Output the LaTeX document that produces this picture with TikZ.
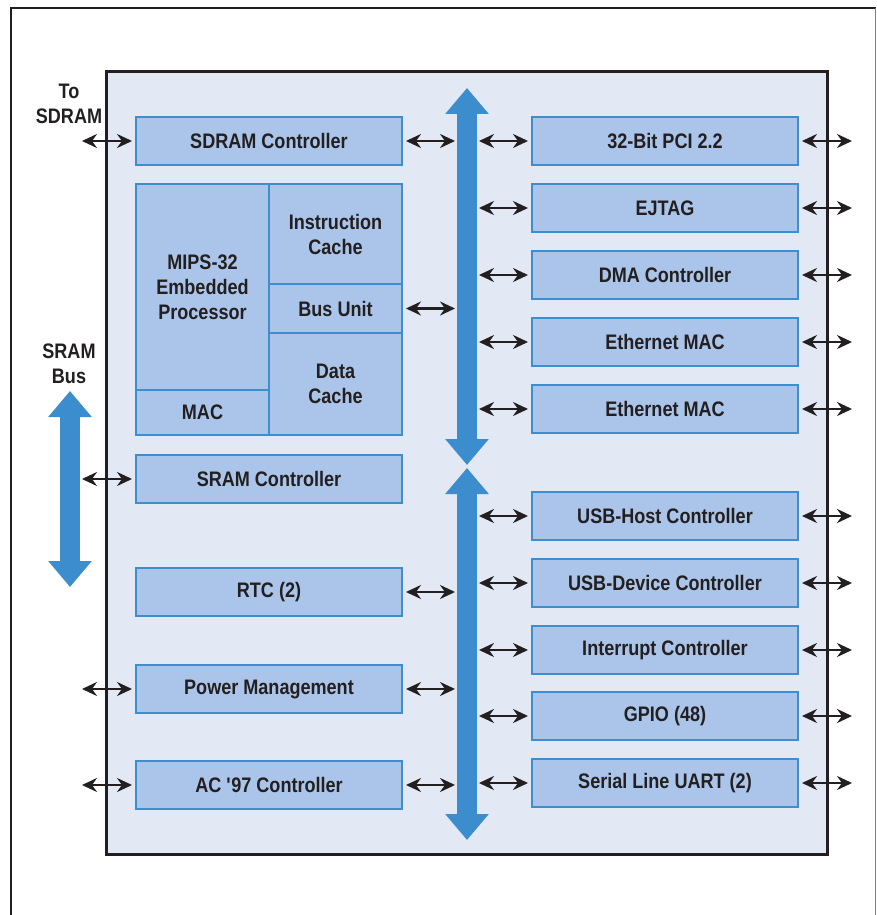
\documentclass[tikz,border=0pt]{standalone}
\usepackage{fontspec}
\setmainfont{Liberation Sans}[FakeStretch=0.86]
\usetikzlibrary{arrows.meta}

\definecolor{fondochip}{RGB}{226,232,244}
\definecolor{relleno}{RGB}{170,197,233}
\definecolor{borde}{RGB}{62,142,205}
\definecolor{azulbus}{RGB}{60,141,205}
\definecolor{tinta}{RGB}{35,31,32}

\begin{document}
\begin{tikzpicture}[x=1pt,y=-1pt]

	%DEFINICIONES
	\tikzstyle{every node}=[font=\fontsize{21}{25}\selectfont\bfseries, text=tinta]
	\tikzstyle{chip} = [draw=tinta, line width=3pt, fill=fondochip]
	\tikzstyle{block} = [draw=borde, align=center, line width=2pt, fill=relleno, inner sep=0pt, minimum width=266pt, minimum height=48pt]
	\tikzstyle{celda} = [draw=borde, align=center, line width=2pt, fill=relleno, inner sep=0pt, minimum width=133pt]
	\tikzstyle{blank} = [align=center, inner sep=0pt, outer sep=0pt]
	\tikzstyle{flecha} = [<->, draw=tinta, line width=2.2pt, >={Stealth[length=15pt,width=14pt,inset=5pt]}]
	\tikzstyle{bus} = [draw=azulbus, line width=20pt, {Triangle[length=26pt,width=42pt]}-{Triangle[length=26pt,width=42pt]}]

	\useasboundingbox (0,0) rectangle (876,915);

	%MARCO
	\draw[tinta, line width=2.5pt] (11,916) -- (11,8) -- (876,8);
	\draw[gray, line width=1pt] (875,8) -- (875,916);
	\draw[chip] (106,72) rectangle (827,854);

	%BLOQUES IZQUIERDA
	\draw(269,141) node[block](sdram){SDRAM Controller};
	\draw(202.5,287) node[celda, minimum height=206pt](cpu){MIPS-32\\Embedded\\Processor};
	\draw(202.5,412.5) node[celda, minimum height=45pt](mac){MAC};
	\draw(335.5,234) node[celda, minimum height=100pt](icache){Instruction\\Cache};
	\draw(335.5,308.5) node[celda, minimum height=49pt](busunit){Bus Unit};
	\draw(335.5,384) node[celda, minimum height=102pt](dcache){Data\\Cache};
	\draw(269,479) node[block](sram){SRAM Controller};
	\draw(269,592) node[block](rtc){RTC (2)};
	\draw(269,689) node[block](power){Power Management};
	\draw(269,785) node[block](ac97){AC \textquotesingle97 Controller};

	%BLOQUES DERECHA
	\draw(665,141) node[block](pci){32-Bit PCI 2.2};
	\draw(665,208) node[block](ejtag){EJTAG};
	\draw(665,275) node[block](dma){DMA Controller};
	\draw(665,342) node[block](eth1){Ethernet MAC};
	\draw(665,409) node[block](eth2){Ethernet MAC};
	\draw(665,516) node[block](usbh){USB-Host Controller};
	\draw(665,583) node[block](usbd){USB-Device Controller};
	\draw(665,650) node[block](intc){Interrupt Controller};
	\draw(665,716) node[block](gpio){GPIO (48)};
	\draw(665,783) node[block](uart){Serial Line UART (2)};

	%ETIQUETAS
	\draw(69,104) node[blank](tosdram){To\\SDRAM};
	\draw(69,364) node[blank](srambus){SRAM\\Bus};

	%BUSES
	\coordinate (b1a) at (467,88);
	\coordinate (b1b) at (467,465);
	\coordinate (b2a) at (467,468);
	\coordinate (b2b) at (467,840);
	\coordinate (s1) at (70,391);
	\coordinate (s2) at (70,587);
	\draw[bus] (b1a) -- (b1b);
	\draw[bus] (b2a) -- (b2b);
	\draw[bus] (s1) -- (s2);

	%REFERENCIAS DE FLECHAS
	\coordinate (extL) at (82,0);
	\coordinate (busL) at (455,0);
	\coordinate (busR) at (479,0);
	\coordinate (extR) at (852,0);

	%FLECHAS IZQUIERDA
	\draw [flecha] (extL |- sdram.west) -- ([xshift=-3pt]sdram.west);
	\draw [flecha] (extL |- sram.west) -- ([xshift=-3pt]sram.west);
	\draw [flecha] (extL |- power.west) -- ([xshift=-3pt]power.west);
	\draw [flecha] (extL |- ac97.west) -- ([xshift=-3pt]ac97.west);

	\draw [flecha] ([xshift=3pt]sdram.east) -- (busL |- sdram.east);
	\draw [flecha] ([xshift=3pt]busunit.east) -- (busL |- busunit.east);
	\draw [flecha] ([xshift=3pt]rtc.east) -- (busL |- rtc.east);
	\draw [flecha] ([xshift=3pt]power.east) -- (busL |- power.east);
	\draw [flecha] ([xshift=3pt]ac97.east) -- (busL |- ac97.east);

	%FLECHAS DERECHA
	\draw [flecha] (busR |- pci.west) -- ([xshift=-3pt]pci.west);
	\draw [flecha] (busR |- ejtag.west) -- ([xshift=-3pt]ejtag.west);
	\draw [flecha] (busR |- dma.west) -- ([xshift=-3pt]dma.west);
	\draw [flecha] (busR |- eth1.west) -- ([xshift=-3pt]eth1.west);
	\draw [flecha] (busR |- eth2.west) -- ([xshift=-3pt]eth2.west);
	\draw [flecha] (busR |- usbh.west) -- ([xshift=-3pt]usbh.west);
	\draw [flecha] (busR |- usbd.west) -- ([xshift=-3pt]usbd.west);
	\draw [flecha] (busR |- intc.west) -- ([xshift=-3pt]intc.west);
	\draw [flecha] (busR |- gpio.west) -- ([xshift=-3pt]gpio.west);
	\draw [flecha] (busR |- uart.west) -- ([xshift=-3pt]uart.west);

	\draw [flecha] ([xshift=3pt]pci.east) -- (extR |- pci.east);
	\draw [flecha] ([xshift=3pt]ejtag.east) -- (extR |- ejtag.east);
	\draw [flecha] ([xshift=3pt]dma.east) -- (extR |- dma.east);
	\draw [flecha] ([xshift=3pt]eth1.east) -- (extR |- eth1.east);
	\draw [flecha] ([xshift=3pt]eth2.east) -- (extR |- eth2.east);
	\draw [flecha] ([xshift=3pt]usbh.east) -- (extR |- usbh.east);
	\draw [flecha] ([xshift=3pt]usbd.east) -- (extR |- usbd.east);
	\draw [flecha] ([xshift=3pt]intc.east) -- (extR |- intc.east);
	\draw [flecha] ([xshift=3pt]gpio.east) -- (extR |- gpio.east);
	\draw [flecha] ([xshift=3pt]uart.east) -- (extR |- uart.east);
\end{tikzpicture}
\end{document}
